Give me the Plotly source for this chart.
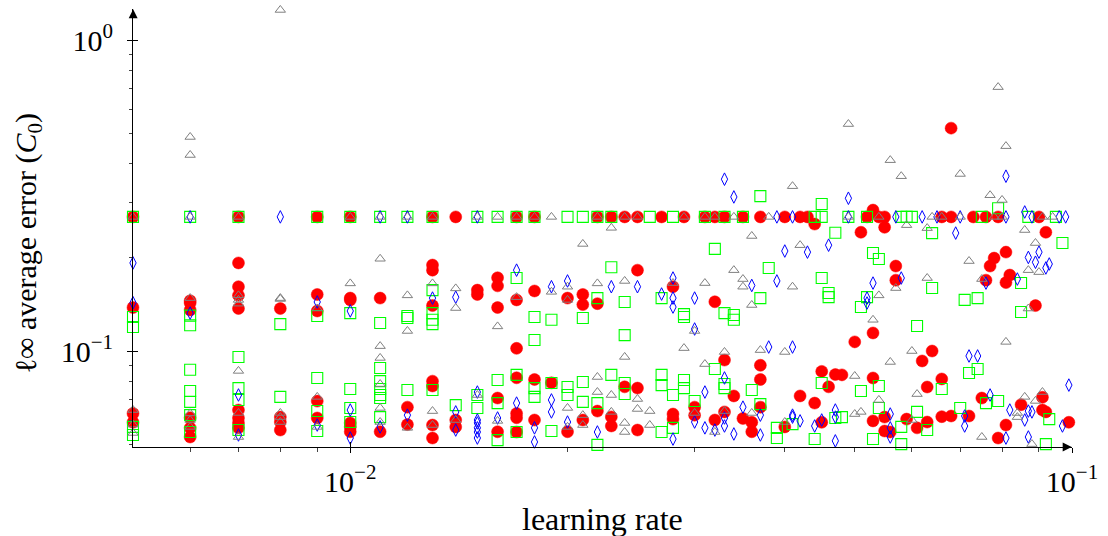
import math
import plotly.graph_objects as go

# Runs that stalled on the common error plateau, per method (learning rates)
plateau_err = 0.27
gray_plateau_lr = [0.005, 0.006, 0.007, 0.010, 0.011, 0.012, 0.013, 0.015, 0.016, 0.017,
                   0.018, 0.019, 0.022, 0.024, 0.025, 0.029, 0.031, 0.032, 0.034, 0.038,
                   0.049, 0.054, 0.064, 0.066, 0.070, 0.078, 0.080, 0.091, 0.094]
blue_plateau_lr = [0.006, 0.008, 0.011, 0.012, 0.015, 0.039, 0.041, 0.049, 0.057, 0.062,
                   0.065, 0.070, 0.081, 0.088, 0.096, 0.098]
green_plateau_lr = [0.005, 0.006, 0.007, 0.009, 0.010, 0.011, 0.012, 0.013, 0.015, 0.016,
                    0.017, 0.018, 0.020, 0.021, 0.022, 0.023, 0.026, 0.028, 0.031, 0.033,
                    0.035, 0.044, 0.045, 0.049, 0.052, 0.058, 0.059, 0.060, 0.075, 0.087, 0.095]
red_plateau_lr = [0.005, 0.007, 0.009, 0.010, 0.013, 0.014, 0.017, 0.018, 0.022, 0.023,
                  0.024, 0.025, 0.027, 0.029, 0.031, 0.032, 0.033, 0.035, 0.037, 0.040,
                  0.042, 0.043, 0.052, 0.054, 0.055, 0.066, 0.068, 0.073, 0.076, 0.079, 0.090]

# Remaining runs: (learning rate, l-inf average error)
gray_runs = [
    (0.006, 0.488), (0.006, 0.427), (0.008, 1.25), (0.049, 0.537), (0.079, 0.706),
    (0.006, 0.148), (0.007, 0.151), (0.008, 0.148), (0.010, 0.165),
    (0.005, 0.0646), (0.005, 0.058), (0.005, 0.0545),
    (0.006, 0.063), (0.006, 0.060), (0.006, 0.057),
    (0.007, 0.146), (0.007, 0.142), (0.007, 0.0863), (0.007, 0.0632), (0.007, 0.0529),
    (0.008, 0.147), (0.008, 0.0632), (0.008, 0.0613), (0.008, 0.0591),
    (0.009, 0.137), (0.009, 0.0712), (0.009, 0.057),
    (0.011, 0.198), (0.011, 0.1037), (0.011, 0.095), (0.011, 0.0783), (0.011, 0.0656), (0.011, 0.0591),
    (0.012, 0.151), (0.012, 0.116), (0.012, 0.0566),
    (0.013, 0.165), (0.013, 0.0641), (0.013, 0.0578),
    (0.014, 0.159), (0.014, 0.1375), (0.014, 0.060),
    (0.015, 0.0722), (0.016, 0.120), (0.016, 0.0596), (0.017, 0.149), (0.019, 0.155),
    (0.020, 0.161), (0.020, 0.146), (0.020, 0.0656), (0.020, 0.057),
    (0.021, 0.221), (0.021, 0.0622), (0.021, 0.0578),
    (0.022, 0.165), (0.022, 0.0825), (0.022, 0.0738),
    (0.023, 0.249), (0.023, 0.0722), (0.023, 0.0637),
    (0.024, 0.168), (0.024, 0.0957), (0.024, 0.0587), (0.024, 0.0549),
    (0.025, 0.0701), (0.025, 0.0651), (0.026, 0.0641), (0.026, 0.0578),
    (0.028, 0.1654), (0.029, 0.1022), (0.030, 0.116), (0.030, 0.0632),
    (0.031, 0.1654), (0.031, 0.0908), (0.032, 0.0549), (0.033, 0.0993), (0.033, 0.0641),
    (0.034, 0.182), (0.035, 0.1704), (0.035, 0.161),
    (0.036, 0.2344), (0.036, 0.1406), (0.036, 0.0632), (0.037, 0.1007),
    (0.040, 0.0993), (0.040, 0.0591), (0.041, 0.339), (0.041, 0.161), (0.042, 0.219),
    (0.050, 0.0831), (0.050, 0.0627), (0.051, 0.0637), (0.053, 0.126),
    (0.054, 0.151), (0.054, 0.0696), (0.056, 0.411), (0.056, 0.0922), (0.057, 0.1594),
    (0.058, 0.365), (0.059, 0.254), (0.060, 0.100), (0.060, 0.060), (0.061, 0.0727),
    (0.063, 0.2485), (0.063, 0.1717), (0.070, 0.371), (0.072, 0.1947),
    (0.075, 0.1704), (0.075, 0.0529), (0.077, 0.317), (0.080, 0.306),
    (0.081, 0.456), (0.081, 0.107), (0.084, 0.0632), (0.084, 0.0613),
    (0.086, 0.245), (0.086, 0.0712), (0.087, 0.182), (0.087, 0.137), (0.088, 0.0502),
    (0.089, 0.2225), (0.089, 0.0691), (0.090, 0.1794), (0.091, 0.0738), (0.100, 0.0618),
]

blue_runs = [
    (0.005, 0.192), (0.005, 0.143), (0.006, 0.1324), (0.007, 0.0722), (0.007, 0.0537),
    (0.009, 0.1438), (0.009, 0.0578), (0.010, 0.1345), (0.010, 0.0646), (0.010, 0.0525),
    (0.011, 0.057), (0.012, 0.0622), (0.013, 0.148),
    (0.014, 0.149), (0.014, 0.0637), (0.014, 0.0557),
    (0.015, 0.0738), (0.015, 0.060), (0.015, 0.0587), (0.015, 0.0566), (0.015, 0.0549), (0.015, 0.0525),
    (0.016, 0.0609), (0.017, 0.182), (0.017, 0.068), (0.018, 0.0566), (0.018, 0.051),
    (0.019, 0.161), (0.019, 0.0696), (0.019, 0.0637), (0.020, 0.168), (0.020, 0.0591),
    (0.022, 0.0549), (0.023, 0.161), (0.025, 0.161), (0.027, 0.1525),
    (0.028, 0.1717), (0.028, 0.148), (0.028, 0.1385), (0.028, 0.0521),
    (0.030, 0.148), (0.030, 0.1177), (0.030, 0.0591), (0.031, 0.0738), (0.031, 0.0566),
    (0.032, 0.0557), (0.033, 0.357), (0.033, 0.0819), (0.033, 0.0609), (0.033, 0.0574),
    (0.034, 0.313), (0.034, 0.0541), (0.035, 0.066), (0.036, 0.1625),
    (0.037, 0.0622), (0.037, 0.0537), (0.038, 0.103), (0.039, 0.168), (0.040, 0.2097),
    (0.041, 0.103), (0.041, 0.0622), (0.041, 0.0613), (0.042, 0.0596), (0.043, 0.208),
    (0.044, 0.0574), (0.045, 0.060), (0.046, 0.219),
    (0.047, 0.0646), (0.047, 0.0613), (0.047, 0.0514), (0.049, 0.310),
    (0.052, 0.148), (0.052, 0.1427), (0.053, 0.1654),
    (0.056, 0.0627), (0.056, 0.0566), (0.056, 0.0529), (0.058, 0.1717), (0.069, 0.2395),
    (0.071, 0.0618), (0.071, 0.0574), (0.072, 0.0964), (0.074, 0.0964),
    (0.076, 0.1654), (0.077, 0.0722), (0.081, 0.365), (0.081, 0.0525), (0.082, 0.0646),
    (0.084, 0.1704), (0.086, 0.280), (0.086, 0.060),
    (0.087, 0.200), (0.087, 0.0641), (0.087, 0.0529), (0.088, 0.0637), (0.089, 0.193),
    (0.090, 0.208), (0.092, 0.185), (0.093, 0.1905), (0.097, 0.0574), (0.099, 0.0777),
]

green_runs = [
    (0.005, 0.1286), (0.005, 0.1195), (0.005, 0.057), (0.005, 0.0537),
    (0.006, 0.130), (0.006, 0.121), (0.006, 0.087), (0.006, 0.0744), (0.006, 0.0686),
    (0.006, 0.0622), (0.006, 0.0549),
    (0.007, 0.0957), (0.007, 0.076), (0.007, 0.0696), (0.007, 0.0557),
    (0.008, 0.122), (0.008, 0.0712),
    (0.009, 0.1296), (0.009, 0.0819), (0.009, 0.0641), (0.009, 0.0553),
    (0.010, 0.1324), (0.010, 0.0755), (0.010, 0.0656), (0.010, 0.0591),
    (0.011, 0.123), (0.011, 0.0882), (0.011, 0.080), (0.011, 0.0755), (0.011, 0.0722),
    (0.011, 0.0706), (0.011, 0.0613),
    (0.012, 0.1296), (0.012, 0.1277), (0.012, 0.0749),
    (0.013, 0.157), (0.013, 0.1324), (0.013, 0.126), (0.013, 0.122), (0.013, 0.0749),
    (0.014, 0.067), (0.015, 0.0722), (0.015, 0.0656),
    (0.016, 0.0807), (0.016, 0.068), (0.016, 0.0517),
    (0.017, 0.1717), (0.017, 0.0838), (0.017, 0.0549),
    (0.018, 0.1286), (0.018, 0.1085), (0.018, 0.076), (0.018, 0.0712),
    (0.019, 0.126), (0.019, 0.0789), (0.019, 0.0553), (0.020, 0.0766), (0.020, 0.0722),
    (0.021, 0.1277), (0.021, 0.0795), (0.021, 0.0686),
    (0.022, 0.148), (0.022, 0.068), (0.022, 0.0499), (0.023, 0.186), (0.023, 0.0838),
    (0.024, 0.1438), (0.024, 0.1125), (0.024, 0.0789), (0.024, 0.0727),
    (0.027, 0.148), (0.027, 0.0838), (0.027, 0.0777), (0.027, 0.0549),
    (0.028, 0.0722), (0.028, 0.0566),
    (0.029, 0.1314), (0.029, 0.1286), (0.029, 0.0807), (0.029, 0.076), (0.030, 0.0691),
    (0.032, 0.213), (0.032, 0.0875), (0.033, 0.1324), (0.033, 0.0783), (0.033, 0.076),
    (0.034, 0.1305), (0.034, 0.126), (0.036, 0.0749),
    (0.037, 0.315), (0.037, 0.148), (0.037, 0.0675), (0.038, 0.185),
    (0.039, 0.0566), (0.039, 0.0525), (0.041, 0.0582), (0.044, 0.0521),
    (0.045, 0.297), (0.045, 0.1717), (0.045, 0.0789), (0.046, 0.1536), (0.046, 0.149),
    (0.047, 0.240), (0.047, 0.0609), (0.048, 0.0613), (0.051, 0.1385), (0.051, 0.0744),
    (0.052, 0.149), (0.053, 0.2066), (0.053, 0.0521),
    (0.054, 0.1976), (0.054, 0.0772), (0.054, 0.0656), (0.058, 0.057), (0.058, 0.0502),
    (0.061, 0.1203), (0.061, 0.0637), (0.063, 0.0557), (0.064, 0.2395), (0.064, 0.1594),
    (0.066, 0.0755), (0.070, 0.0656), (0.071, 0.146), (0.072, 0.085),
    (0.074, 0.148), (0.074, 0.0875), (0.076, 0.068), (0.079, 0.288), (0.079, 0.0691),
    (0.085, 0.1654), (0.085, 0.1335), (0.092, 0.0502), (0.093, 0.0604), (0.097, 0.2225),
]

red_runs = [
    (0.068, 0.521), (0.053, 0.284), (0.044, 0.256),
    (0.005, 0.138), (0.005, 0.063), (0.005, 0.059),
    (0.006, 0.145), (0.006, 0.1427), (0.006, 0.1355), (0.006, 0.061), (0.006, 0.0566), (0.006, 0.0529),
    (0.007, 0.192), (0.007, 0.161), (0.007, 0.151), (0.007, 0.137), (0.007, 0.0646),
    (0.007, 0.0609), (0.007, 0.0587), (0.007, 0.0566),
    (0.008, 0.137), (0.008, 0.0613), (0.008, 0.0591), (0.008, 0.0557),
    (0.009, 0.152), (0.009, 0.1345), (0.009, 0.069), (0.009, 0.0609),
    (0.010, 0.148), (0.010, 0.146), (0.010, 0.0587), (0.010, 0.057), (0.010, 0.055),
    (0.011, 0.148), (0.011, 0.055), (0.012, 0.066), (0.012, 0.058),
    (0.013, 0.189), (0.013, 0.182), (0.013, 0.140), (0.013, 0.080), (0.013, 0.0772),
    (0.013, 0.0578), (0.013, 0.0525),
    (0.014, 0.060), (0.014, 0.057), (0.015, 0.157), (0.015, 0.152),
    (0.016, 0.172), (0.016, 0.162), (0.016, 0.138), (0.016, 0.0706), (0.016, 0.055),
    (0.017, 0.146), (0.017, 0.102), (0.017, 0.082), (0.017, 0.063), (0.017, 0.061),
    (0.017, 0.0549), (0.017, 0.049),
    (0.018, 0.156), (0.018, 0.081), (0.018, 0.060), (0.019, 0.079),
    (0.020, 0.148), (0.020, 0.055), (0.021, 0.152), (0.021, 0.141), (0.021, 0.060),
    (0.022, 0.142), (0.022, 0.0641), (0.023, 0.0614), (0.023, 0.0574), (0.024, 0.0767),
    (0.025, 0.182), (0.025, 0.076), (0.025, 0.0557),
    (0.028, 0.161), (0.028, 0.0627), (0.028, 0.0604), (0.030, 0.066), (0.030, 0.0622),
    (0.032, 0.144), (0.032, 0.060), (0.033, 0.0935), (0.033, 0.0637), (0.034, 0.0717),
    (0.035, 0.0607), (0.036, 0.059), (0.036, 0.055),
    (0.037, 0.090), (0.037, 0.081), (0.037, 0.066), (0.040, 0.057), (0.042, 0.0717),
    (0.044, 0.068), (0.045, 0.086), (0.045, 0.059), (0.046, 0.0767), (0.047, 0.084),
    (0.048, 0.0838), (0.050, 0.107), (0.051, 0.241),
    (0.053, 0.1143), (0.053, 0.0819), (0.053, 0.0596),
    (0.055, 0.250), (0.055, 0.0613), (0.055, 0.0553), (0.056, 0.0549),
    (0.057, 0.1876), (0.057, 0.169), (0.059, 0.0604), (0.061, 0.0566), (0.062, 0.0929),
    (0.063, 0.0766), (0.063, 0.0591), (0.064, 0.100), (0.066, 0.0813), (0.066, 0.0615),
    (0.068, 0.0618), (0.072, 0.0618), (0.075, 0.0706), (0.076, 0.169), (0.077, 0.1876),
    (0.078, 0.199), (0.079, 0.0525), (0.081, 0.208), (0.081, 0.166), (0.081, 0.0578),
    (0.082, 0.1755), (0.085, 0.0672), (0.089, 0.140),
    (0.091, 0.071), (0.091, 0.0646), (0.092, 0.241), (0.092, 0.0637), (0.099, 0.059),
]

# Axis ticks
x_major = [0.01, 0.1]
x_major_text = ["10<sup>\u22122</sup>", "10<sup>\u22121</sup>"]
x_minor = [0.006, 0.007, 0.008, 0.009, 0.02, 0.03, 0.04, 0.05, 0.06, 0.07, 0.08, 0.09]
y_major = [0.1, 1.0]
y_major_text = ["10<sup>\u22121</sup>", "10<sup>0</sup>"]
y_minor = [0.05, 0.06, 0.07, 0.08, 0.09, 0.2, 0.3, 0.4, 0.5, 0.6, 0.7, 0.8, 0.9]

X_MIN, X_MAX = 0.005, 0.1
Y_MIN, Y_MAX = 10 ** -1.3087, 10 ** 0.100
FONT = "Liberation Serif"


def series(plateau_lr, runs):
    xs = list(plateau_lr) + [p[0] for p in runs]
    ys = [plateau_err] * len(plateau_lr) + [p[1] for p in runs]
    return xs, ys


fig = go.Figure()

rx, ry = series(red_plateau_lr, red_runs)
gx, gy = series(green_plateau_lr, green_runs)
bx, by = series(blue_plateau_lr, blue_runs)
tx, ty = series(gray_plateau_lr, gray_runs)

fig.add_trace(go.Scatter(x=rx, y=ry, mode="markers", cliponaxis=False, showlegend=False,
                         marker=dict(symbol="circle", size=12, color="#ff0000",
                                     line=dict(color="#ff0000", width=0.5))))
fig.add_trace(go.Scatter(x=gx, y=gy, mode="markers", cliponaxis=False, showlegend=False,
                         marker=dict(symbol="square-open", size=11, color="#00ff00",
                                     line=dict(color="#00ff00", width=1.1))))
fig.add_trace(go.Scatter(x=bx, y=by, mode="markers", cliponaxis=False, showlegend=False,
                         marker=dict(symbol="diamond-tall-open", size=9, color="#0000ff",
                                     line=dict(color="#0000ff", width=1))))
# gray series sits on the overlay axes, which also carry the inward tick halves
fig.add_trace(go.Scatter(x=tx, y=ty, mode="markers", cliponaxis=False, showlegend=False,
                         xaxis="x2", yaxis="y2",
                         marker=dict(symbol="triangle-up-open", size=9, color="#808080",
                                     line=dict(color="#808080", width=1))))

# arrowheads at the ends of both axis lines (kept just inside the ranges)
fig.add_trace(go.Scatter(x=[X_MAX * 0.999], y=[Y_MIN * 1.0005], mode="markers",
                         cliponaxis=False, showlegend=False, hoverinfo="skip",
                         marker=dict(symbol="arrow-right", size=9, color="black",
                                     line=dict(width=0))))
fig.add_trace(go.Scatter(x=[X_MIN * 1.0005], y=[Y_MAX * 0.999], mode="markers",
                         cliponaxis=False, showlegend=False, hoverinfo="skip",
                         marker=dict(symbol="arrow-up", size=9, color="black",
                                     line=dict(width=0))))

tickfont = dict(family=FONT, size=30, color="black")
X_RANGE = [math.log10(X_MIN), math.log10(X_MAX)]
Y_RANGE = [math.log10(Y_MIN), math.log10(Y_MAX)]

common_x = dict(type="log", range=X_RANGE, showgrid=False, zeroline=False,
                tickvals=x_major, ticktext=x_major_text, tickcolor="black", tickwidth=1,
                ticklen=5, minor=dict(tickvals=x_minor, ticklen=3.5, tickcolor="#444444",
                                      tickwidth=0.8, showgrid=False))
common_y = dict(type="log", range=Y_RANGE, showgrid=False, zeroline=False,
                tickvals=y_major, ticktext=y_major_text, tickcolor="black", tickwidth=1,
                ticklen=5, minor=dict(tickvals=y_minor, ticklen=3.5, tickcolor="#444444",
                                      tickwidth=0.8, showgrid=False))

fig.update_layout(
    width=1108, height=536,
    margin=dict(l=133, r=36, t=9, b=89),
    plot_bgcolor="white", paper_bgcolor="white",
    xaxis=dict(**common_x, ticks="outside", showline=True, linecolor="black", linewidth=1,
               tickfont=tickfont, ticklabelstandoff=3),
    yaxis=dict(**common_y, ticks="outside", showline=True, linecolor="black", linewidth=1,
               tickfont=tickfont, ticklabelstandoff=8),
    xaxis2=dict(**common_x, overlaying="x", anchor="y2", side="bottom", ticks="inside",
                showline=False, showticklabels=False),
    yaxis2=dict(**common_y, overlaying="y", anchor="x2", side="left", ticks="inside",
                showline=False, showticklabels=False),
)

# axis titles
fig.add_annotation(x=0.5, y=0, xref="paper", yref="paper", yshift=-72,
                   text="learning rate", showarrow=False, xanchor="center", yanchor="middle",
                   font=dict(family=FONT, size=32, color="black"))
fig.add_annotation(x=0, y=0.465, xref="paper", yref="paper", xshift=-105,
                   text="\u2113\u221e average error (<i>C</i><sub>0</sub>)", textangle=-90,
                   showarrow=False, xanchor="center", yanchor="middle",
                   font=dict(family=FONT, size=30, color="black"))

fig.write_html("out.html")
